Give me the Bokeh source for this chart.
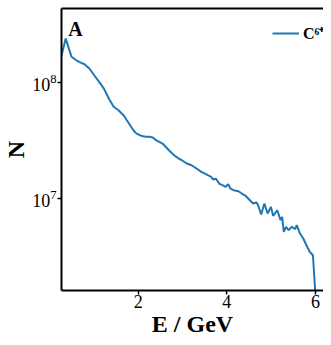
from bokeh.plotting import figure
from bokeh.models import Range1d, Label, Legend, LegendItem, LinearAxis, FixedTicker, LogTicker
from bokeh.embed import file_html
from bokeh.resources import INLINE

energy_gev = [0.250, 0.365, 0.424, 0.496, 0.605, 0.715, 0.789, 0.899, 1.008, 1.118,
              1.227, 1.337, 1.446, 1.556, 1.628, 1.672, 1.744, 1.818, 1.891, 1.963,
              2.037, 2.110, 2.182, 2.256, 2.329, 2.401, 2.475, 2.548, 2.620, 2.694,
              2.767, 2.839, 2.913, 2.986, 3.095, 3.205, 3.314, 3.424, 3.496, 3.570,
              3.643, 3.693, 3.752, 3.824, 3.899, 3.971, 4.030, 4.080, 4.153, 4.262,
              4.337, 4.409, 4.519, 4.591, 4.665, 4.700, 4.774, 4.847, 4.919, 4.993,
              5.044, 5.138, 5.212, 5.247, 5.285, 5.335, 5.394, 5.466, 5.541, 5.576,
              5.650, 5.723, 5.795, 5.869, 5.942, 6.001]
log10_counts = [8.200, 8.379, 8.308, 8.222, 8.192, 8.170, 8.158, 8.121, 8.063, 8.006,
                7.948, 7.862, 7.791, 7.761, 7.733, 7.718, 7.675, 7.632, 7.589, 7.560,
                7.546, 7.537, 7.532, 7.532, 7.526, 7.503, 7.489, 7.474, 7.446, 7.416,
                7.388, 7.365, 7.345, 7.330, 7.302, 7.287, 7.259, 7.230, 7.216, 7.201,
                7.187, 7.164, 7.172, 7.129, 7.115, 7.101, 7.123, 7.086, 7.072, 7.063,
                7.043, 7.028, 6.985, 6.957, 6.966, 6.948, 6.862, 6.957, 6.871, 6.928,
                6.851, 6.899, 6.813, 6.842, 6.713, 6.756, 6.727, 6.756, 6.735, 6.770,
                6.698, 6.655, 6.597, 6.541, 6.511, 6.150]
counts = [10 ** v for v in log10_counts]
x_ticks = [2, 4, 6]
series_label = "C\u2076\u207a"
panel_letter = "A"

SERIF = "Liberation Serif"

p = figure(width=323, height=343, y_axis_type="log",
           x_range=Range1d(0.27, 6.18), y_range=Range1d(1.61e6, 4.35e8),
           output_backend="svg", toolbar_location=None,
           min_border_left=53, min_border_right=0, min_border_top=8, min_border_bottom=53)
p.outline_line_color = None
p.grid.visible = False
p.background_fill_color = "white"

line = p.line(energy_gev, counts, line_color="#1f77b4", line_width=2)

for ax in (p.xaxis[0], p.yaxis[0]):
    ax.axis_line_width = 2
    ax.axis_line_color = "black"
    ax.major_tick_line_width = 1.5
    ax.major_tick_out = 4
    ax.major_tick_in = 0
    ax.minor_tick_line_color = None
    ax.major_label_text_font = SERIF
    ax.major_label_text_font_size = "18px"
    ax.major_label_text_color = "black"
    ax.axis_label_text_font = SERIF
    ax.axis_label_text_font_size = "24px"
    ax.axis_label_text_font_style = "bold"
    ax.axis_label_text_color = "black"

p.xaxis[0].ticker = FixedTicker(ticks=x_ticks)
p.xaxis[0].axis_label = "E / GeV"
p.xaxis[0].major_label_standoff = 0
p.xaxis[0].axis_label_standoff = 0
p.yaxis[0].ticker = LogTicker(desired_num_ticks=3, num_minor_ticks=0)
p.yaxis[0].axis_label = "N"
p.yaxis[0].major_label_standoff = 1
p.yaxis[0].axis_label_standoff = 0

top = LinearAxis(ticker=FixedTicker(ticks=[]), axis_line_width=2, axis_line_color="black",
                 major_tick_line_color=None, minor_tick_line_color=None,
                 major_tick_out=0, major_tick_in=0, major_label_standoff=0)
p.add_layout(top, "above")

legend = Legend(items=[LegendItem(label=series_label, renderers=[line])],
                location=(211, 246), background_fill_alpha=0, border_line_color=None,
                label_text_font=SERIF, label_text_font_style="bold",
                label_text_font_size="16px", label_text_color="black",
                glyph_width=27, glyph_height=20,
                label_height=20, label_standoff=4, margin=0, padding=0)
p.add_layout(legend)

p.add_layout(Label(x=0.42, y=10 ** 8.56, text=panel_letter, text_color="black",
                   text_font=SERIF, text_font_style="bold", text_font_size="20px",
                   text_baseline="top", text_align="left"))

open("out.html", "w").write(file_html(p, INLINE))
